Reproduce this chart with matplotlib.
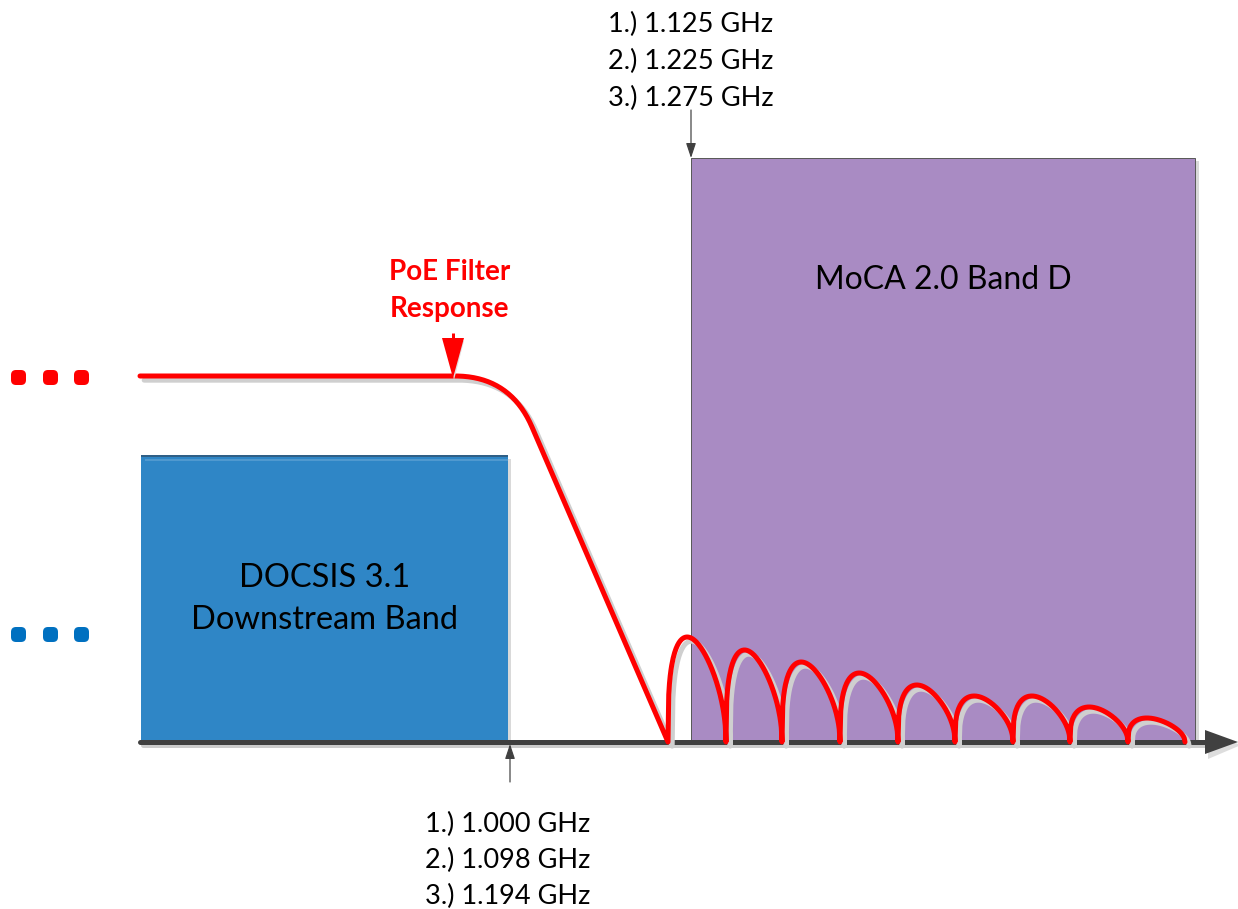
import numpy as np
import matplotlib
matplotlib.use("Agg")
import matplotlib.pyplot as plt
from matplotlib.patches import Rectangle, FancyBboxPatch, Polygon
import matplotlib.patheffects as pe

plt.rcParams['font.family'] = ['Lato', 'DejaVu Sans']

# ---- data (pixel-space diagram) ----
axis_y = 742
axis_x0, axis_x1 = 140, 1238
docsis_band = (141, 508, 456)      # x0, x1, top
moca_band = (691, 1195, 158)       # x0, x1, top
filter_flat_y = 376
filter_flat_x = (140, 455)
filter_corner = (510, 376)
filter_bend_end = (532, 427)
filter_zero = (668, 742)
lobe_zeros = [668, 726, 782, 840, 898, 955, 1013, 1070, 1128, 1185]
lobe_heights = [105, 92, 80, 69, 57, 46, 46, 35, 24]
top_labels = ["1.) 1.125 GHz", "2.) 1.225 GHz", "3.) 1.275 GHz"]
bottom_labels = ["1.) 1.000 GHz", "2.) 1.098 GHz", "3.) 1.194 GHz"]
dots_x = [18, 50, 81]

W, H = 1238, 909
fig = plt.figure(figsize=(W/100, H/100), dpi=100)
ax = fig.add_axes([0, 0, 1, 1])
ax.set_xlim(0, W)
ax.set_ylim(H, 0)
ax.axis('off')

def px(p):  # pixels -> points linewidth
    return p * 72 / 100

shadow = '#d9d9d9'

# DOCSIS band
x0, x1, top = docsis_band
ax.add_patch(Rectangle((x0 + 3, top + 3), x1 - x0, axis_y - top, facecolor=shadow, edgecolor='none', zorder=1))
ax.add_patch(Rectangle((x0, top), x1 - x0, axis_y - top, facecolor='#2F86C6', edgecolor='none', zorder=2))
ax.plot([x0, x1], [top, top], color='#2F5F86', lw=px(2), zorder=3, solid_capstyle='butt')
ax.plot([x0 + 4, x1], [top + 4, top + 4], color='#5BA0D3', lw=px(1.5), zorder=3, solid_capstyle='butt')
ax.text((x0 + x1) / 2, 578, "DOCSIS 3.1", ha='center', va='center', fontsize=23.5, color='black', zorder=5)
ax.text((x0 + x1) / 2, 620, "Downstream Band", ha='center', va='center', fontsize=23.5, color='black', zorder=5)

# MoCA band
x0, x1, top = moca_band
ax.add_patch(Rectangle((x0 + 4, top + 3), x1 - x0, axis_y - top, facecolor=shadow, edgecolor='none', zorder=1))
ax.add_patch(Rectangle((x0, top), x1 - x0, axis_y - top, facecolor='#A98BC3', edgecolor='#5a5a5a', lw=px(1), zorder=2))
ax.text((x0 + x1) / 2, 280, "MoCA 2.0 Band D", ha='center', va='center', fontsize=23, color='black', zorder=5)

# frequency axis with arrow
sh = [pe.SimpleLineShadow(offset=(2, -2), shadow_color='#cccccc', alpha=1), pe.Normal()]
ax.plot([axis_x0, 1205], [axis_y, axis_y], color='#404040', lw=px(5), zorder=6,
        solid_capstyle='round', path_effects=sh)
ax.add_patch(Polygon([[1205 + 3, axis_y - 12 + 3], [axis_x1 + 3, axis_y + 3], [1205 + 3, axis_y + 14 + 3]],
                     closed=True, facecolor='#dddddd', edgecolor='none', zorder=5))
ax.add_patch(Polygon([[1205, axis_y - 12], [axis_x1, axis_y], [1205, axis_y + 12]],
                     closed=True, facecolor='#404040', edgecolor='none', zorder=6))

# filter response
red = '#FF0000'
t = np.linspace(0, 1, 40)
bx = (1 - t)**2 * filter_flat_x[1] + 2 * (1 - t) * t * filter_corner[0] + t**2 * filter_bend_end[0]
by = (1 - t)**2 * filter_flat_y + 2 * (1 - t) * t * filter_corner[1] + t**2 * filter_bend_end[1]
fx = np.concatenate([[filter_flat_x[0]], bx, [filter_zero[0]]])
fy = np.concatenate([[filter_flat_y], by, [filter_zero[1]]])
# lobes
p = np.log(0.5) / np.log(0.33)
for i, h in enumerate(lobe_heights):
    za, zb = lobe_zeros[i], lobe_zeros[i + 1]
    s = np.linspace(0, 1, 80)
    lx = za + (zb - za) * s
    ly = axis_y - h * np.sqrt(np.sin(np.pi * s**p))
    fx = np.concatenate([fx, lx[1:]])
    fy = np.concatenate([fy, ly[1:]])
rsh = [pe.SimpleLineShadow(offset=(3, -3), shadow_color='#cfcfcf', alpha=1), pe.Normal()]
ax.plot(fx, fy, color=red, lw=px(5), zorder=8, solid_capstyle='round', solid_joinstyle='round', path_effects=rsh)

# filter label and arrow
ax.plot([453, 453], [333, 345], color=red, lw=px(3), zorder=9, solid_capstyle='butt')
ax.add_patch(Polygon([[445, 341], [464, 341], [454, 380]], closed=True,
                     facecolor='#e0e0e0', edgecolor='none', zorder=8))
ax.add_patch(Polygon([[442, 338], [464, 338], [453, 378]], closed=True,
                     facecolor=red, edgecolor='none', zorder=9))
ax.text(450, 272, "PoE Filter", ha='center', va='center', fontsize=20, fontweight='bold', color=red)
ax.text(450, 309, "Response", ha='center', va='center', fontsize=20, fontweight='bold', color=red)

# dots
for x in dots_x:
    ax.add_patch(FancyBboxPatch((x - 5, 377 - 5), 11, 11, boxstyle='round,pad=2,rounding_size=5',
                                facecolor=red, edgecolor='none', zorder=5))
    ax.add_patch(FancyBboxPatch((x - 5, 634 - 5), 11, 11, boxstyle='round,pad=2,rounding_size=5',
                                facecolor='#0070C0', edgecolor='none', zorder=5))

# frequency markers
ax.annotate("", xy=(691, 158), xytext=(691, 110),
            arrowprops=dict(arrowstyle='-|>,head_length=0.9,head_width=0.3', color='#404040', lw=px(1.2),
                            shrinkA=0, shrinkB=0), zorder=9)
ax.annotate("", xy=(510, 744), xytext=(510, 782),
            arrowprops=dict(arrowstyle='-|>,head_length=0.9,head_width=0.3', color='#404040', lw=px(1.2),
                            shrinkA=0, shrinkB=0), zorder=9)
for i, lab in enumerate(top_labels):
    ax.text(691, 24 + 37 * i, lab, ha='center', va='center', fontsize=19.5, color='black')
for i, lab in enumerate(bottom_labels):
    ax.text(508, 824 + 36 * i, lab, ha='center', va='center', fontsize=19.5, color='black')

fig.savefig("out.png", dpi=100)
